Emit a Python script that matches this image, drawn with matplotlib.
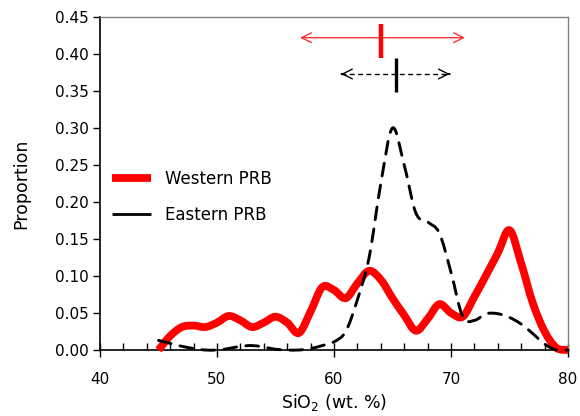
import numpy as np
import matplotlib
matplotlib.use("Agg")
import matplotlib.pyplot as plt
from matplotlib.path import Path
from matplotlib.patches import PathPatch
from matplotlib.lines import Line2D

# SiO2 grid (wt. %) and proportion of samples in each bin
sio2 = list(range(45, 81))
western = [0.000, 0.019, 0.031, 0.033, 0.031, 0.037, 0.046, 0.040, 0.031, 0.037,
           0.045, 0.037, 0.023, 0.052, 0.085, 0.081, 0.070, 0.090, 0.107, 0.095,
           0.070, 0.047, 0.026, 0.042, 0.062, 0.050, 0.045, 0.072, 0.101, 0.131,
           0.162, 0.117, 0.063, 0.025, 0.003, 0.000]
eastern = [0.013, 0.009, 0.005, 0.002, 0.000, 0.000, 0.002, 0.005, 0.006, 0.004,
           0.001, 0.000, 0.000, 0.002, 0.006, 0.011, 0.025, 0.068, 0.125, 0.225,
           0.300, 0.250, 0.185, 0.173, 0.158, 0.105, 0.045, 0.040, 0.049, 0.049,
           0.044, 0.035, 0.022, 0.008, 0.000, 0.000]

# Mean and spread (arrow extent) for each group
west_mean, west_lo, west_hi = 64.0, 57.1, 71.2
east_mean, east_lo, east_hi = 65.3, 60.6, 69.9

series_labels = ["Western PRB", "Eastern PRB"]

plt.rcParams["font.family"] = ["DejaVu Sans"]


def smooth_path(x, y):
    """Catmull-Rom curve through the points, expressed as cubic Bezier segments."""
    pts = np.column_stack([x, y]).astype(float)
    ext = np.vstack([pts[0], pts, pts[-1]])
    verts = [pts[0]]
    codes = [Path.MOVETO]
    for i in range(len(pts) - 1):
        p0, p1, p2, p3 = ext[i], ext[i + 1], ext[i + 2], ext[i + 3]
        c1 = p1 + (p2 - p0) / 6.0
        c2 = p2 - (p3 - p1) / 6.0
        verts += [c1, c2, p2]
        codes += [Path.CURVE4] * 3
    return Path(np.array(verts), codes)


fig = plt.figure(figsize=(5.8, 4.16), dpi=100)
ax = fig.add_axes([100 / 580, 1 - 350 / 416, 468 / 580, 333 / 416])

red = "#ff0000"

ax.add_patch(PathPatch(smooth_path(sio2, western), fill=False, edgecolor=red,
                       lw=5.6, capstyle="butt", joinstyle="round", clip_on=False,
                       zorder=3))
ax.add_patch(PathPatch(smooth_path(sio2, eastern), fill=False, edgecolor="black",
                       lw=2.1, linestyle=(0, (4.4, 3.2)), capstyle="round",
                       clip_on=False, zorder=4))

# Western: mean bar with double arrow
y_w = 0.422
ax.annotate("", xy=(west_lo, y_w), xytext=(west_hi, y_w),
            arrowprops=dict(arrowstyle="<->,head_length=0.7,head_width=0.35",
                            color="#ff3030", lw=1.0, shrinkA=0, shrinkB=0))
ax.plot([west_mean, west_mean], [0.395, 0.440], color=red, lw=3.2,
        solid_capstyle="butt", zorder=5)

# Eastern: dashed shaft with solid open heads
y_e = 0.373
ax.plot([east_lo, east_hi], [y_e, y_e], color="black", lw=1.0,
        linestyle=(0, (3.5, 2.5)))
for end, start in ((east_lo, east_lo + 0.05), (east_hi, east_hi - 0.05)):
    ax.annotate("", xy=(end, y_e), xytext=(start, y_e),
                arrowprops=dict(arrowstyle="->,head_length=0.7,head_width=0.35",
                                color="black", lw=1.0, shrinkA=0, shrinkB=0))
ax.plot([east_mean, east_mean], [0.349, 0.395], color="black", lw=2.4,
        solid_capstyle="butt", zorder=5)

ax.set_xlim(40, 80)
ax.set_ylim(0, 0.45)
ax.set_xticks(np.arange(40, 81, 10))
ax.set_xticks(np.arange(40, 81, 2), minor=True)
ax.set_yticks(np.arange(0, 0.451, 0.05))
ax.yaxis.set_major_formatter(plt.FuncFormatter(lambda v, p: f"{v:.2f}"))

ax.tick_params(axis="x", which="major", direction="inout", length=10, width=1,
               labelsize=11, pad=10.5)
ax.tick_params(axis="x", which="minor", direction="in", length=5, width=1)
ax.tick_params(axis="y", which="major", direction="out", length=5, width=1,
               labelsize=11, pad=3)

for side in ("left", "bottom"):
    ax.spines[side].set_color("black")
    ax.spines[side].set_linewidth(1.2)
for side in ("top", "right"):
    ax.spines[side].set_color("#808080")
    ax.spines[side].set_linewidth(1.0)

ax.set_xlabel("SiO$_2$ (wt. %)", fontsize=12.5, labelpad=4)
ax.set_ylabel("Proportion", fontsize=12.5, labelpad=18)

handles = [Line2D([], [], color=red, lw=5.6, solid_capstyle="butt"),
           Line2D([], [], color="black", lw=2.0, solid_capstyle="butt")]
ax.legend(handles, series_labels, loc="upper left", bbox_to_anchor=(0.026, 0.541),
          frameon=False, fontsize=12, handlelength=2.33, handletextpad=0.86,
          labelspacing=1.08, borderpad=0, borderaxespad=0)

fig.savefig("out.png", dpi=100)
